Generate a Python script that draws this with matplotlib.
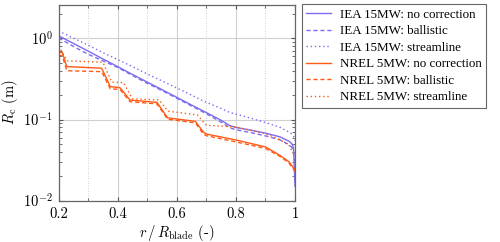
import numpy as np
import matplotlib
matplotlib.use('Agg')
import matplotlib.pyplot as plt
from matplotlib.ticker import FixedLocator, LogLocator, NullFormatter

plt.rcParams['font.family'] = 'serif'
plt.rcParams['font.serif'] = ['cmr10', 'DejaVu Serif']
plt.rcParams['mathtext.fontset'] = 'cm'
plt.rcParams['axes.formatter.use_mathtext'] = True

# --- data ---
r_iea = [0.2, 0.25, 0.3, 0.35, 0.4, 0.45, 0.5, 0.55, 0.6, 0.65, 0.7, 0.75,
         0.78, 0.8, 0.85, 0.9, 0.95, 0.98, 0.99, 0.995, 1.0]
iea_none = [1.08, 0.87, 0.70, 0.56, 0.45, 0.36, 0.29, 0.234, 0.188, 0.151, 0.122, 0.098,
            0.084, 0.080, 0.074, 0.068, 0.061, 0.054, 0.050, 0.045, 0.015]
iea_ballistic = [1.02, 0.80, 0.64, 0.53, 0.44, 0.35, 0.28, 0.228, 0.183, 0.147, 0.118, 0.093,
                 0.079, 0.075, 0.069, 0.063, 0.056, 0.049, 0.045, 0.040, 0.030]
iea_streamline = [1.24, 1.01, 0.83, 0.67, 0.55, 0.45, 0.365, 0.30, 0.245, 0.20, 0.163, 0.137,
                  0.122, 0.117, 0.104, 0.092, 0.080, 0.070, 0.066, 0.063, 0.055]

r_nrel = [0.2, 0.213, 0.228, 0.346, 0.375, 0.408, 0.442, 0.533, 0.569, 0.663,
          0.69, 0.702, 0.8, 0.9, 0.95, 0.98, 1.0]
nrel_none = [0.675, 0.67, 0.45, 0.43, 0.255, 0.247, 0.174, 0.163, 0.105, 0.095,
             0.070, 0.066, 0.056, 0.046, 0.036, 0.030, 0.024]
nrel_ballistic = [0.62, 0.61, 0.40, 0.39, 0.24, 0.235, 0.166, 0.156, 0.101, 0.091,
                  0.066, 0.063, 0.053, 0.044, 0.035, 0.029, 0.023]

r_nrel_sl = [0.2, 0.23, 0.35, 0.38, 0.42, 0.45, 0.54, 0.57, 0.67, 0.70,
             0.8, 0.9, 0.95, 0.98, 1.0]
nrel_streamline = [0.80, 0.53, 0.51, 0.29, 0.285, 0.18, 0.175, 0.127, 0.114, 0.085,
                   0.081, 0.067, 0.056, 0.048, 0.035]

blue = '#7b6cf0'
orange = '#ff5a14'

fig = plt.figure(figsize=(5.0, 2.42), dpi=100)
ax = fig.add_axes([0.117, 0.171, 0.473, 0.809])

lw = 1.0
ax.plot(r_iea, iea_none, color=blue, lw=lw, ls='-', label='IEA 15MW: no correction')
ax.plot(r_iea, iea_ballistic, color=blue, lw=lw, ls=(0, (3, 2)), label='IEA 15MW: ballistic')
ax.plot(r_iea, iea_streamline, color=blue, lw=lw, ls=(0, (1, 2)), label='IEA 15MW: streamline')
ax.plot(r_nrel, nrel_none, color=orange, lw=lw, ls='-', label='NREL 5MW: no correction')
ax.plot(r_nrel, nrel_ballistic, color=orange, lw=lw, ls=(0, (3, 2)), label='NREL 5MW: ballistic')
ax.plot(r_nrel_sl, nrel_streamline, color=orange, lw=lw, ls=(0, (1, 2)), label='NREL 5MW: streamline')

ax.set_yscale('log')
ax.set_xlim(0.2, 1.0)
ax.set_ylim(0.01, 2.6)

ax.xaxis.set_major_locator(FixedLocator([0.2, 0.4, 0.6, 0.8, 1.0]))
ax.xaxis.set_minor_locator(FixedLocator([0.3, 0.5, 0.7, 0.9]))
ax.set_xticklabels(['0.2', '0.4', '0.6', '0.8', '1'])
ax.yaxis.set_major_locator(LogLocator(base=10, numticks=10))
ax.yaxis.set_minor_locator(LogLocator(base=10, subs=np.arange(2, 10), numticks=10))
ax.yaxis.set_minor_formatter(NullFormatter())

ax.grid(True, which='major', color='#d0d0d0', lw=0.8, ls='-')
ax.grid(True, which='minor', axis='x', color='#c0c0c0', lw=0.6, ls=(0, (1, 2)))
ax.set_axisbelow(True)

ax.tick_params(which='both', direction='in', top=True, right=True, colors='#555555',
               labelcolor='black', labelsize=10.5)
ax.tick_params(axis='x', which='major', pad=5)
ax.tick_params(axis='y', which='major', pad=4)
ax.tick_params(which='major', length=3)
ax.tick_params(which='minor', length=2)
for s in ax.spines.values():
    s.set_color('#666666')
    s.set_linewidth(0.9)

ax.set_xlabel(r'$r\,/\,R_\mathrm{blade}$ (-)', fontsize=10.5, labelpad=1)
ax.set_ylabel(r'$R_\mathrm{c}$ (m)', fontsize=10.5, labelpad=2)

leg = fig.legend(loc='upper left', bbox_to_anchor=(0.603, 0.984), borderaxespad=0,
                 prop={'family': 'Liberation Serif', 'size': 9.4},
                 handlelength=1.9, handletextpad=0.7, labelspacing=0.34,
                 borderpad=0.35, fancybox=False, framealpha=1.0, edgecolor='#666666')
leg.get_frame().set_linewidth(0.8)

fig.savefig('out.png', dpi=100)
